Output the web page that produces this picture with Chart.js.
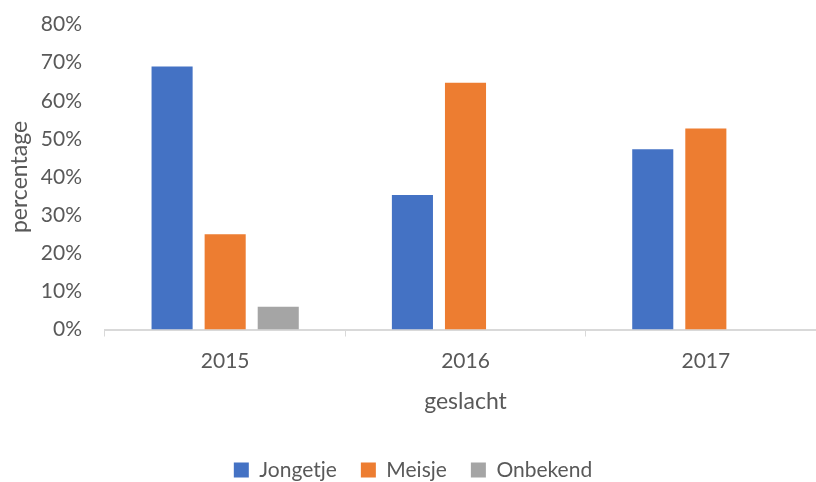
<!DOCTYPE html>
<html>
<head>
<meta charset="utf-8">
<script src="https://cdn.jsdelivr.net/npm/chart.js@4.4.0/dist/chart.umd.min.js"></script>
<style>
  html, body { margin: 0; padding: 0; background: #fff; overflow: hidden; }
  #wrap { width: 826px; height: 482px; }
</style>
</head>
<body>
<div id="wrap"><canvas id="genderChart" width="826" height="482"></canvas></div>
<script>
// chart data (percentages per year)
const years = ['2015', '2016', '2017'];
const jongetje = [69, 35.3, 47.3];
const meisje = [25, 64.7, 52.7];
const onbekend = [6, 0, 0];
const yMax = 80;
const yStep = 10;

const textColor = '#595959';
const fontFamily = 'Lato, "Liberation Sans", sans-serif';

const ctx = document.getElementById('genderChart');
new Chart(ctx, {
    type: 'bar',
    data: {
        labels: years,
        datasets: [
            { label: 'Jongetje', data: jongetje, backgroundColor: '#4472C4' },
            { label: 'Meisje', data: meisje, backgroundColor: '#ED7D31' },
            { label: 'Onbekend', data: onbekend, backgroundColor: '#A5A5A5' }
        ]
    },
    options: {
        responsive: false,
        animation: false,
        devicePixelRatio: 1,
        categoryPercentage: 0.6625,
        barPercentage: 0.774,
        layout: {
            padding: { top: 24.5, bottom: -8.5, left: 0, right: 0 }
        },
        plugins: {
            legend: {
                position: 'bottom',
                labels: {
                    color: textColor,
                    font: { family: fontFamily, size: 21 },
                    boxWidth: 15,
                    boxHeight: 15,
                    padding: 24
                }
            },
            tooltip: { enabled: false }
        },
        scales: {
            y: {
                min: 0,
                max: yMax,
                ticks: {
                    stepSize: yStep,
                    color: textColor,
                    font: { family: fontFamily, size: 21 },
                    padding: 2,
                    callback: function(v) { return v + '%'; }
                },
                // hidden grid, tick length only pushes the labels left
                grid: { display: false, drawTicks: true, tickLength: 21 },
                border: { display: false },
                title: {
                    display: true,
                    text: 'percentage',
                    color: textColor,
                    font: { family: fontFamily, size: 23 },
                    padding: { top: 6, bottom: 0 }
                },
                afterFit: function(scale) { scale.width = 105; }
            },
            x: {
                ticks: {
                    color: textColor,
                    font: { family: fontFamily, size: 21 },
                    padding: 12
                },
                grid: {
                    drawOnChartArea: false,
                    color: '#d9d9d9',
                    tickLength: 7,
                    offset: true
                },
                border: { color: '#d9d9d9', width: 2 },
                title: {
                    display: true,
                    text: 'geslacht',
                    color: textColor,
                    font: { family: fontFamily, size: 23 },
                    padding: { top: 4, bottom: 20 }
                },
                afterFit: function(scale) { scale.height = 106; }
            }
        }
    }
});
</script>
</body>
</html>
